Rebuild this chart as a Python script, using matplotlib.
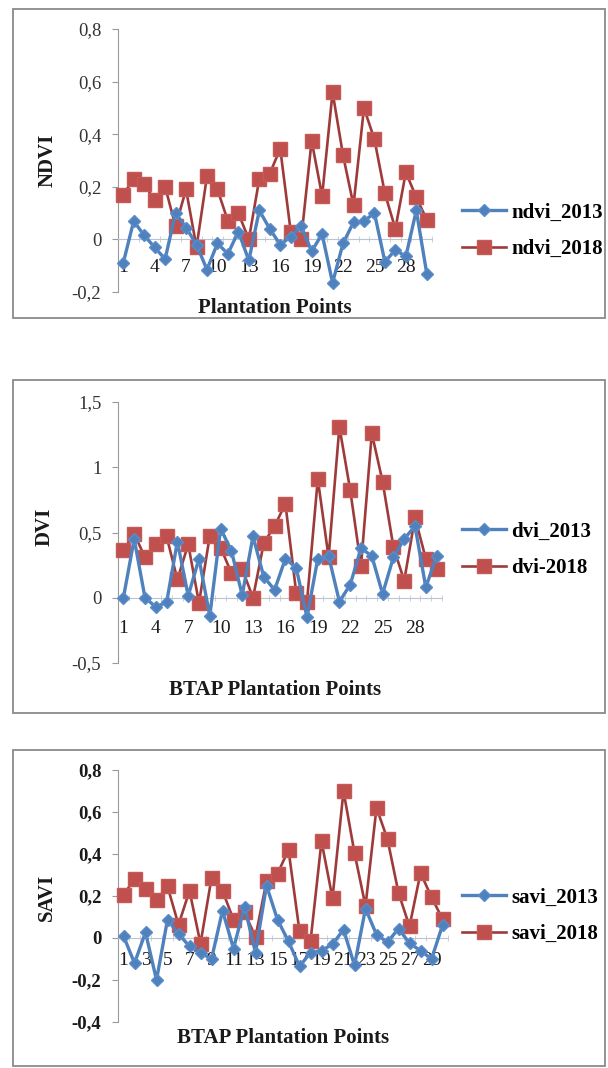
import numpy as np
import matplotlib.pyplot as plt
from matplotlib.patches import Rectangle
from matplotlib.ticker import FuncFormatter, FixedLocator

plt.rcParams['font.family'] = ['Liberation Serif', 'DejaVu Serif']

# plantation point index (30 points per panel)
points = list(range(1, 31))

ndvi_2013 = [-0.09, 0.07, 0.015, -0.03, -0.075, 0.10, 0.045, -0.02, -0.115, -0.015,
             -0.055, 0.03, -0.08, 0.11, 0.04, -0.02, 0.01, 0.05, -0.045, 0.02,
             -0.165, -0.015, 0.065, 0.07, 0.10, -0.085, -0.04, -0.065, 0.11, -0.13]
ndvi_2018 = [0.17, 0.23, 0.21, 0.15, 0.20, 0.05, 0.19, -0.03, 0.24, 0.19,
             0.07, 0.10, 0.0, 0.23, 0.25, 0.345, 0.03, 0.0, 0.375, 0.165,
             0.56, 0.32, 0.13, 0.50, 0.38, 0.175, 0.04, 0.255, 0.16, 0.075]

dvi_2013 = [0.0, 0.45, 0.0, -0.07, -0.035, 0.43, 0.015, 0.30, -0.14, 0.53,
            0.36, 0.02, 0.47, 0.16, 0.06, 0.30, 0.23, -0.15, 0.30, 0.32,
            -0.03, 0.10, 0.38, 0.32, 0.03, 0.31, 0.45, 0.55, 0.08, 0.32]
dvi_2018 = [0.365, 0.49, 0.31, 0.41, 0.47, 0.14, 0.41, -0.04, 0.475, 0.385,
            0.19, 0.22, 0.0, 0.42, 0.55, 0.72, 0.04, -0.03, 0.91, 0.31,
            1.31, 0.825, 0.245, 1.26, 0.89, 0.39, 0.13, 0.615, 0.30, 0.22]

savi_2013 = [0.01, -0.12, 0.027, -0.2, 0.087, 0.02, -0.04, -0.07, -0.10, 0.13,
             -0.05, 0.15, -0.07, 0.25, 0.087, -0.016, -0.135, -0.07, -0.06, -0.03,
             0.04, -0.13, 0.14, 0.016, -0.02, 0.045, -0.025, -0.06, -0.10, 0.06]
savi_2018 = [0.206, 0.28, 0.233, 0.18, 0.246, 0.063, 0.225, -0.027, 0.286, 0.225,
             0.087, 0.122, 0.005, 0.27, 0.306, 0.42, 0.032, -0.016, 0.46, 0.19,
             0.70, 0.405, 0.152, 0.62, 0.47, 0.215, 0.055, 0.31, 0.195, 0.09]

W, H = 608, 1068
fig = plt.figure(figsize=(W / 100, H / 100), dpi=100)

BLUE = '#4F81BD'
RED = '#C0504D'
RED_LINE = '#9E3B3A'


def comma(v, pos):
    if abs(v) < 1e-9:
        v = 0
    return f'{round(v, 2):g}'.replace('.', ',')


def frame(x0, y0, x1, y1):
    fig.patches.append(Rectangle((x0 / W, 1 - y1 / H), (x1 - x0) / W, (y1 - y0) / H,
                                 transform=fig.transFigure, fill=False,
                                 ec='#8a8a8a', lw=1.3))


def panel(axbox, ylim, ystep, s13, s18, names, ylabel, ylab_xy, xlabel, xlab_xy,
          xticks, leg_y, bold_ticks=False, xpad=12):
    x0, x1, ytop, ybot = axbox
    ax = fig.add_axes([x0 / W, 1 - ybot / H, (x1 - x0) / W, (ybot - ytop) / H])
    ax.plot(points, s13, color=BLUE, lw=2.4, marker='D', ms=6.5, mfc=BLUE, mec='#5a8ccc',
            label=names[0], zorder=4, clip_on=False)
    ax.plot(points, s18, color=RED_LINE, lw=1.9, marker='s', ms=10, mfc=RED, mec='#C65a57',
            label=names[1], zorder=3, clip_on=False)
    ax.set_xlim(0.5, 30.5)
    ax.set_ylim(*ylim)
    ax.set_yticks(np.arange(ylim[0], ylim[1] + 1e-9, ystep))
    ax.yaxis.set_major_formatter(FuncFormatter(comma))
    for s in ['top', 'right']:
        ax.spines[s].set_visible(False)
    ax.spines['left'].set_color('#9a9a9a')
    ax.spines['bottom'].set_position(('data', 0))
    ax.spines['bottom'].set_color('#b8c4d4')
    ax.xaxis.set_major_locator(FixedLocator(xticks))
    ax.xaxis.set_minor_locator(FixedLocator(np.arange(0.5, 31, 1)))
    ax.tick_params(axis='x', which='major', length=0, pad=xpad, labelsize=14, colors='#1a1a1a')
    ax.tick_params(axis='x', which='minor', length=4, direction='inout', color='#c8c8c8')
    ax.tick_params(axis='y', length=4, labelsize=13.5, pad=8, colors='#9a9a9a',
                   labelcolor='#333333')
    if bold_ticks:
        for t in ax.get_yticklabels():
            t.set_fontweight('bold')
            t.set_color('#1a1a1a')
    ax.patch.set_alpha(0)

    fig.text(ylab_xy[0] / W, 1 - ylab_xy[1] / H, ylabel, rotation=90, ha='center', va='center',
             fontsize=15, fontweight='bold', color='#1a1a1a')
    fig.text(xlab_xy[0] / W, 1 - xlab_xy[1] / H, xlabel, ha='center', va='center',
             fontsize=15, fontweight='bold', color='#1a1a1a')

    ax.legend(loc='center left', bbox_to_anchor=(452 / W, 1 - leg_y / H),
              bbox_transform=fig.transFigure, frameon=False,
              prop={'size': 15, 'weight': 'bold'}, handlelength=2.1,
              handletextpad=0.25, labelspacing=0.8, borderpad=0)
    return ax


# panel 1: NDVI
frame(13, 9, 605, 318)
panel((118, 432, 29, 292), (-0.2, 0.8), 0.2, ndvi_2013, ndvi_2018,
      ['ndvi_2013', 'ndvi_2018'], 'NDVI', (48, 160), 'Plantation Points', (275, 308),
      list(range(1, 31, 3)), 231, xpad=14)

# panel 2: DVI
frame(13, 380, 605, 713)
panel((118, 442, 402, 663), (-0.5, 1.5), 0.5, dvi_2013, dvi_2018,
      ['dvi_2013', 'dvi-2018'], 'DVI', (45, 527), 'BTAP Plantation Points', (275, 690),
      list(range(1, 31, 3)), 550, xpad=16)

# panel 3: SAVI
frame(13, 750, 605, 1066)
panel((118, 448, 770, 1022), (-0.4, 0.8), 0.2, savi_2013, savi_2018,
      ['savi_2013', 'savi_2018'], 'SAVI', (47, 897), 'BTAP Plantation Points', (283, 1038),
      list(range(1, 31, 2)), 916, bold_ticks=True, xpad=10)

fig.savefig('out.png', dpi=100)
